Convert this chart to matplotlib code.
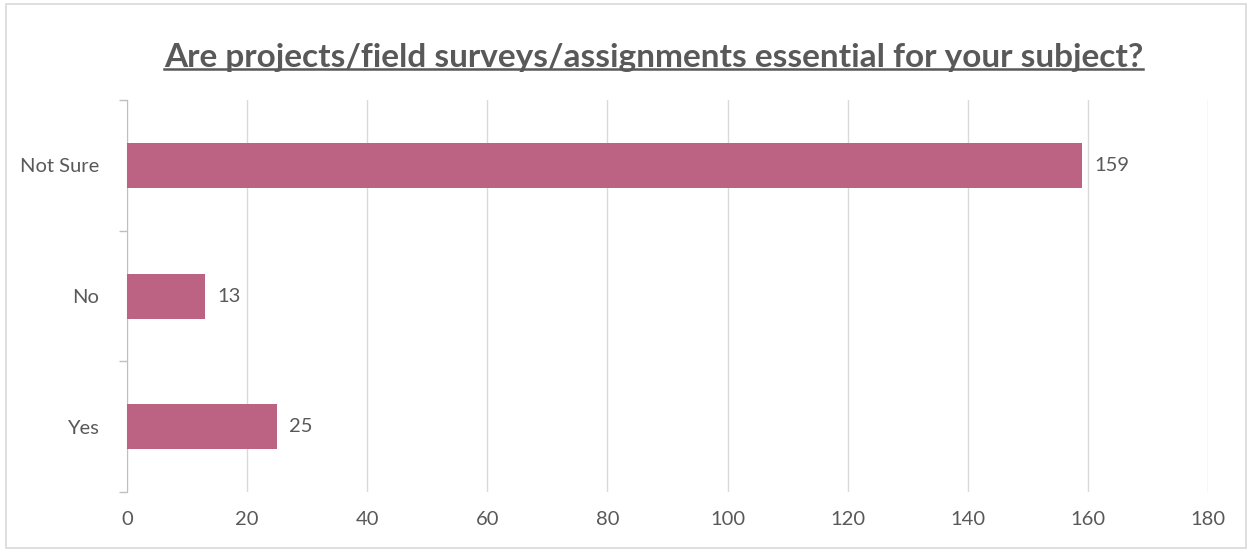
import matplotlib.pyplot as plt
from matplotlib.patches import Rectangle
import numpy as np

categories = ["Yes", "No", "Not Sure"]
counts = [25, 13, 159]
x_ticks = [0, 20, 40, 60, 80, 100, 120, 140, 160, 180]

plt.rcParams["font.family"] = ["Lato", "DejaVu Sans"]
text_color = "#595959"
bar_color = "#BC6384"

fig = plt.figure(figsize=(12.52, 5.5), dpi=100)
ax = fig.add_axes([0.1014, 0.1055, 0.8636, 0.7125])

pos = np.arange(len(categories))
ax.barh(pos, counts, height=0.345, color=bar_color, zorder=3)
for p, v in zip(pos, counts):
    ax.text(v + 2, p, str(v), va="center", ha="left", fontsize=14.5, color=text_color)

ax.set_xlim(0, 180)
ax.set_ylim(-0.5, len(categories) - 0.5)
ax.set_xticks(x_ticks)
ax.set_yticks(pos)
ax.set_yticklabels(categories)
ax.set_yticks(np.arange(-0.5, len(categories)), minor=True)
ax.tick_params(axis="x", length=0, labelsize=14.5, labelcolor=text_color, pad=14)
ax.tick_params(axis="y", which="major", length=0, labelsize=14.5, labelcolor=text_color, pad=20)
ax.tick_params(axis="y", which="minor", length=6, color="#BFBFBF", width=1)
ax.grid(axis="x", color="#D9D9D9", linewidth=1, zorder=0)
for s in ["top", "right", "bottom"]:
    ax.spines[s].set_visible(False)
ax.spines["left"].set_color("#BFBFBF")

fig.text(0.522, 0.895, "Are projects/field surveys/assignments essential for your subject?",
         ha="center", va="center", fontsize=24, fontweight="bold", color=text_color)
t = fig.texts[0]
fig.canvas.draw()
bb = t.get_window_extent()
inv = fig.transFigure.inverted()
(x0, y0), (x1, y1) = inv.transform([[bb.x0, bb.y0], [bb.x1, bb.y1]])
fig.add_artist(plt.Line2D([x0, x1], [y0 + 0.006, y0 + 0.006], color=text_color, linewidth=1.8))

fig.add_artist(Rectangle((0.005, 0.004), 0.99, 0.988, transform=fig.transFigure,
                         fill=False, edgecolor="#D9D9D9", linewidth=1.2))

fig.savefig("out.png", dpi=100)
